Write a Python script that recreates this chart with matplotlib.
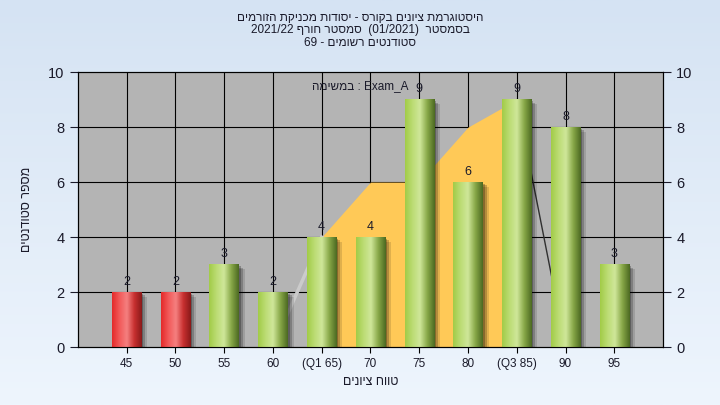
import numpy as np
import matplotlib
matplotlib.use("Agg")
import matplotlib.pyplot as plt
import matplotlib.transforms as mtransforms
from matplotlib.colors import LinearSegmentedColormap

# data
categories = ["45", "50", "55", "60", "(Q1 65)", "70", "75", "80", "(Q3 85)", "90", "95"]
counts = [2, 2, 3, 2, 4, 4, 9, 6, 9, 8, 3]
failing = [True, True, False, False, False, False, False, False, False, False, False]
# outline behind the bars (category index, value)
curve_idx = [3, 4, 5, 6, 7, 8, 9]
curve_vals = [0, 4, 6, 6, 8, 9, 0]


def rtl(s):
    # matplotlib draws left to right, so hebrew goes in visual order
    return s[::-1]


title_lines = [
    rtl("היסטוגרמת ציונים בקורס - יסודות מכניקת הזורמים"),
    "2021/22 " + rtl("סמסטר חורף") + "  (01/2021)  " + rtl("בסמסטר"),
    "69 - " + rtl("סטודנטים רשומים"),
]
xlabel = rtl("טווח ציונים")
ylabel = rtl("מספר סטודנטים")
note = rtl("במשימה") + " : Exam_A"

plt.rcParams['font.family'] = ['Liberation Sans', 'DejaVu Sans']
text_color = "#1a1a2a"

fig = plt.figure(figsize=(7.2, 4.05), dpi=100)

# figure background gradient
bg = fig.add_axes([0, 0, 1, 1], zorder=-10)
grad = np.linspace(0, 1, 256).reshape(-1, 1)
bg_cmap = LinearSegmentedColormap.from_list("bg", ["#d5e3f3", "#eef5fd"])
bg.imshow(grad, aspect="auto", cmap=bg_cmap, extent=(0, 1, 0, 1))
bg.set_axis_off()

ax = fig.add_axes([0.108, 0.143, 0.813, 0.679])
ax.set_facecolor("#b4b4b4")

x = np.arange(len(categories))
width = 0.6

# grid
for gx in x:
    ax.axvline(gx, color="black", lw=0.8, zorder=1)
for gy in [2, 4, 6, 8]:
    ax.axhline(gy, color="black", lw=0.8, zorder=1)

# area behind the bars
cx = np.array(curve_idx, dtype=float)
cy = np.array(curve_vals, dtype=float)
ax.fill_between(cx[1:-1], 0, cy[1:-1], color="#ffc957", zorder=2, lw=0)
ax.plot(cx[:2], cy[:2], color="#cbcbcb", lw=2.5, zorder=2)
ax.plot(cx[-2:], cy[-2:], color="#303030", lw=1, zorder=2)


def bar_gradient(base):
    if base == "red":
        stops = ["#e42a2a", "#f25a5a", "#f58080", "#c83030", "#8a1a1a"]
    else:
        stops = ["#a2cc48", "#bcdc74", "#cfe79a", "#88a848", "#4c6a22"]
    cmap = LinearSegmentedColormap.from_list("b", stops)
    return cmap(np.linspace(0, 1, 64)).reshape(1, 64, 4)


green_img = bar_gradient("green")
red_img = bar_gradient("red")

for i, (v, bad) in enumerate(zip(counts, failing)):
    x0 = i - width / 2
    # soft shadow to the right
    for k, a in [(6, 0.12), (4, 0.2), (2, 0.25)]:
        off = mtransforms.offset_copy(ax.transData, fig=fig, x=k, y=-k * 0.8, units="dots")
        ax.add_patch(plt.Rectangle((x0, 0), width, v, transform=off,
                                   facecolor="black", alpha=a, lw=0, zorder=3))
    ax.imshow(red_img if bad else green_img, aspect="auto",
              extent=(x0, x0 + width, 0, v), zorder=4, interpolation="bilinear")
    ax.annotate(str(v), (i, v), xytext=(0, 3), textcoords="offset points",
                ha="center", va="bottom", fontsize=9, color=text_color, zorder=6)

ax.set_xlim(-1, 11)
ax.set_ylim(0, 10)
ax.set_xticks(x)
ax.set_xticklabels(categories, fontsize=8.5, color=text_color)
ax.set_yticks([0, 2, 4, 6, 8, 10])
ax.tick_params(axis="y", labelsize=10.5, colors=text_color, length=6, direction="out")
ax.tick_params(axis="x", length=4, direction="out", pad=4)
for sp in ax.spines.values():
    sp.set_color("black")

ax2 = ax.twinx()
ax2.set_ylim(0, 10)
ax2.set_yticks([0, 2, 4, 6, 8, 10])
ax2.tick_params(axis="y", labelsize=10.5, colors=text_color, length=6, direction="out")

ax.set_xlabel(xlabel, fontsize=9, color=text_color, labelpad=4)
ax.set_ylabel(ylabel, fontsize=9, color=text_color, labelpad=11)

ax.text(4.8, 9.5, note, ha="center", va="center", fontsize=8.5, color=text_color, zorder=7)

for k, line in enumerate(title_lines):
    fig.text(0.5, 1 - (18 + 12.5 * k) / 405, line, ha="center", va="center",
             fontsize=8.5, color=text_color)

fig.savefig("out.png", dpi=100)
